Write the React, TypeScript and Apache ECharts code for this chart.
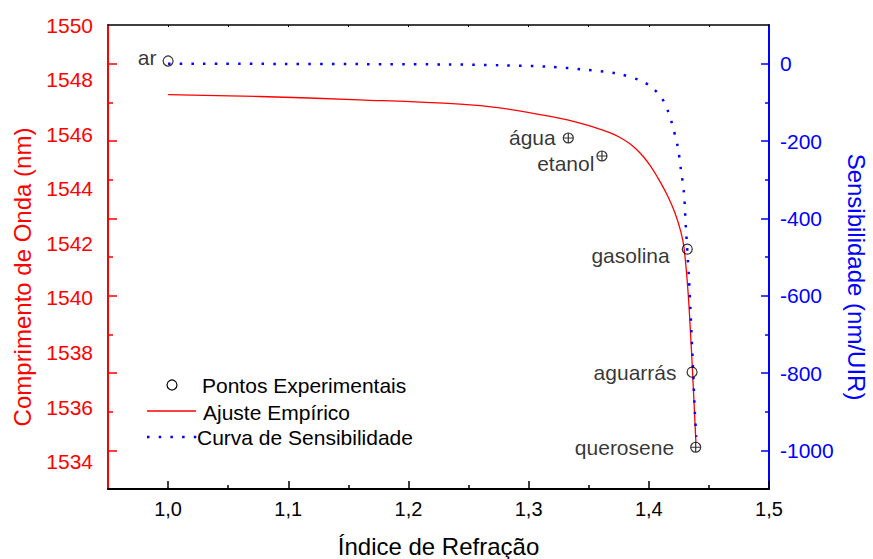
import React, { useEffect, useRef } from "react";
import * as echarts from "echarts";

const FONT = '"Liberation Sans", Arial, Helvetica, sans-serif';

// Experimental points
const pointNames = ["ar", "água", "etanol", "gasolina", "aguarrás", "querosene"];
const pointIndex = [1.0, 1.333, 1.361, 1.432, 1.436, 1.439];
const pointWavelength = [1548.68, 1545.86, 1545.2, 1541.79, 1537.28, 1534.53];
const pointCrossed = [false, true, true, false, false, true];
const pointLabelOffset: [number, number][] = [
  [-6, -4],
  [-7, 0],
  [-2, 7],
  [-12, 6],
  [-10, 0],
  [-16, 0],
];

// Empirical fit (wavelength, nm)
const fitIndex = [1.0, 1.076, 1.159, 1.243, 1.276, 1.318, 1.345, 1.368, 1.376, 1.384, 1.39, 1.395, 1.401, 1.407, 1.416, 1.4217, 1.4265, 1.4292, 1.4325, 1.435, 1.4367, 1.4392];
const fitWavelength = [1547.45, 1547.38, 1547.26, 1547.1, 1546.96, 1546.65, 1546.38, 1546.05, 1545.88, 1545.66, 1545.43, 1545.2, 1544.86, 1544.44, 1543.71, 1543.12, 1542.45, 1541.87, 1540.3, 1538.47, 1537.0, 1534.69];

// Sensitivity curve (nm/UIR)
const sensIndex = [1.0, 1.234, 1.276, 1.318, 1.345, 1.373, 1.3925, 1.4025, 1.411, 1.416, 1.419, 1.424, 1.4267, 1.4292, 1.4308, 1.4333, 1.435, 1.4367, 1.4383, 1.4395];
const sensValue = [0, -2, -4, -8, -15, -25, -43, -61, -90, -123, -152, -214, -274, -333, -421, -550, -662, -783, -902, -965];

// Axis ticks / labels
const xLabels = [1.0, 1.1, 1.2, 1.3, 1.4, 1.5];
const xMinorTicks = [1.05, 1.15, 1.25, 1.35, 1.45];
const xTopTicks = [1.0, 1.05, 1.1, 1.15, 1.2, 1.25, 1.3, 1.35, 1.4, 1.45];
const leftLabels = [1534, 1536, 1538, 1540, 1542, 1544, 1546, 1548, 1550];
const rightLabels = [-1000, -800, -600, -400, -200, 0];
const rightMinorTicks = [-900, -700, -500, -300, -100];

const RED = "#ff0000";
const BLUE = "#0000ff";

const crossSymbol = "path://M10,5A5,5,0,1,1,0,5A5,5,0,1,1,10,5ZM0,5L10,5M5,0L5,10";

export default function App() {
  const ref = useRef<HTMLDivElement>(null);

  useEffect(() => {
    if (!ref.current) return;
    const chart = echarts.init(ref.current, undefined, { renderer: "svg" });

    const fitData = fitIndex.map((x, i) => [x, fitWavelength[i]]);
    const sensData = sensIndex.map((x, i) => [x, sensValue[i]]);
    const pointData = pointNames.map((n, i) => ({
      name: n,
      value: [pointIndex[i], pointWavelength[i]],
      symbol: pointCrossed[i] ? crossSymbol : "circle",
      label: { offset: pointLabelOffset[i] },
    }));

    const hiddenLine = { show: false, onZero: false };
    const noLabel = { show: false };
    const noSplit = { show: false };
    const plain = (v: number) => String(v);

    chart.setOption({
      animation: false,
      grid: { left: 108, right: 104, top: 25, bottom: 70, containLabel: false },
      xAxis: [
        {
          type: "value",
          position: "bottom",
          min: 0.95,
          max: 1.5,
          axisLine: { show: true, onZero: false, lineStyle: { color: "#000", width: 2 } },
          axisTick: { show: true, inside: true, length: 8, customValues: xLabels, lineStyle: { color: "#000", width: 1.5 } },
          axisLabel: {
            show: true,
            customValues: xLabels,
            formatter: (v: number) => v.toFixed(1).replace(".", ","),
            color: "#000",
            fontSize: 20,
            fontFamily: FONT,
            margin: 10,
          },
          splitLine: noSplit,
        },
        {
          type: "value",
          position: "bottom",
          min: 0.95,
          max: 1.5,
          axisLine: hiddenLine,
          axisTick: { show: true, inside: true, length: 4, customValues: xMinorTicks, lineStyle: { color: "#000", width: 1.5 } },
          axisLabel: noLabel,
          splitLine: noSplit,
        },
        {
          type: "value",
          position: "top",
          min: 0.95,
          max: 1.5,
          axisLine: { show: true, onZero: false, lineStyle: { color: "#000", width: 1.5 } },
          axisTick: { show: true, inside: true, length: 2, customValues: xTopTicks, lineStyle: { color: "#000", width: 1 } },
          axisLabel: noLabel,
          splitLine: noSplit,
        },
      ],
      yAxis: [
        {
          type: "value",
          position: "left",
          min: 1533,
          max: 1550,
          axisLine: { show: true, onZero: false, lineStyle: { color: RED, width: 2 } },
          axisTick: { show: false },
          axisLabel: { show: true, customValues: leftLabels, formatter: plain, color: RED, fontSize: 21, fontFamily: FONT, margin: 15 },
          splitLine: noSplit,
        },
        {
          type: "value",
          position: "right",
          min: -1100,
          max: 100,
          axisLine: { show: true, onZero: false, lineStyle: { color: BLUE, width: 2 } },
          axisTick: { show: true, inside: true, length: 8, customValues: rightLabels, lineStyle: { color: BLUE, width: 1.5 } },
          axisLabel: { show: true, customValues: rightLabels, formatter: plain, color: BLUE, fontSize: 21, fontFamily: FONT, margin: 11 },
          splitLine: noSplit,
        },
        {
          type: "value",
          position: "right",
          min: -1100,
          max: 100,
          axisLine: hiddenLine,
          axisTick: { show: true, inside: true, length: 4, customValues: rightMinorTicks, lineStyle: { color: BLUE, width: 1.5 } },
          axisLabel: noLabel,
          splitLine: noSplit,
        },
        {
          type: "value",
          position: "left",
          min: -1100,
          max: 100,
          axisLine: hiddenLine,
          axisTick: { show: true, inside: true, length: 9, customValues: rightLabels, lineStyle: { color: RED, width: 1.5 } },
          axisLabel: noLabel,
          splitLine: noSplit,
        },
        {
          type: "value",
          position: "left",
          min: -1100,
          max: 100,
          axisLine: hiddenLine,
          axisTick: { show: true, inside: true, length: 5, customValues: rightMinorTicks, lineStyle: { color: RED, width: 1.5 } },
          axisLabel: noLabel,
          splitLine: noSplit,
        },
      ],
      series: [
        {
          name: "Ajuste Empírico",
          type: "line",
          xAxisIndex: 0,
          yAxisIndex: 0,
          data: fitData,
          showSymbol: false,
          smooth: 0.4,
          silent: true,
          lineStyle: { color: RED, width: 1.3 },
          z: 2,
        },
        {
          name: "Curva de Sensibilidade",
          type: "line",
          xAxisIndex: 0,
          yAxisIndex: 1,
          data: sensData,
          showSymbol: false,
          smooth: 0.3,
          silent: true,
          lineStyle: { color: BLUE, width: 2.5, type: [2.5, 9.2] },
          z: 3,
        },
        {
          name: "Pontos Experimentais",
          type: "scatter",
          xAxisIndex: 0,
          yAxisIndex: 0,
          data: pointData,
          symbolSize: 10,
          silent: true,
          itemStyle: { color: "rgba(0,0,0,0)", borderColor: "#000", borderWidth: 1.2 },
          label: {
            show: true,
            position: "left",
            distance: 0,
            formatter: (p: any) => p.name,
            color: "#000",
            fontSize: 21,
            fontFamily: FONT,
          },
          z: 5,
        },
      ],
      graphic: [
        {
          type: "text",
          x: 22,
          y: 277,
          rotation: Math.PI / 2,
          style: { text: "Comprimento de Onda (nm)", fill: RED, fontSize: 24, fontFamily: FONT, align: "center", verticalAlign: "middle" },
        },
        {
          type: "text",
          x: 856,
          y: 277,
          rotation: -Math.PI / 2,
          style: { text: "Sensibilidade (nm/UIR)", fill: BLUE, fontSize: 24, fontFamily: FONT, align: "center", verticalAlign: "middle" },
        },
        {
          type: "text",
          x: 438.5,
          y: 546,
          style: { text: "Índice de Refração", fill: "#000", fontSize: 24, fontFamily: FONT, align: "center", verticalAlign: "middle" },
        },
        {
          type: "circle",
          shape: { cx: 172, cy: 385, r: 5 },
          style: { fill: "none", stroke: "#000", lineWidth: 1.2 },
        },
        {
          type: "text",
          x: 202,
          y: 385,
          style: { text: "Pontos Experimentais", fill: "#000", fontSize: 21, fontFamily: FONT, align: "left", verticalAlign: "middle" },
        },
        {
          type: "line",
          shape: { x1: 147, y1: 411, x2: 196, y2: 411 },
          style: { stroke: RED, lineWidth: 1.3 },
        },
        {
          type: "text",
          x: 203,
          y: 412,
          style: { text: "Ajuste Empírico", fill: "#000", fontSize: 21, fontFamily: FONT, align: "left", verticalAlign: "middle" },
        },
        {
          type: "line",
          shape: { x1: 147, y1: 437, x2: 200, y2: 437 },
          style: { stroke: BLUE, lineWidth: 2.5, lineDash: [2.5, 9.2] },
        },
        {
          type: "text",
          x: 197,
          y: 437,
          style: { text: "Curva de Sensibilidade", fill: "#000", fontSize: 21, fontFamily: FONT, align: "left", verticalAlign: "middle" },
        },
      ],
    });

    return () => {
      chart.dispose();
    };
  }, []);

  return (
    <div
      ref={ref}
      style={{ position: "fixed", left: 0, top: 0, width: 873, height: 559, background: "#fff" }}
    />
  );
}
